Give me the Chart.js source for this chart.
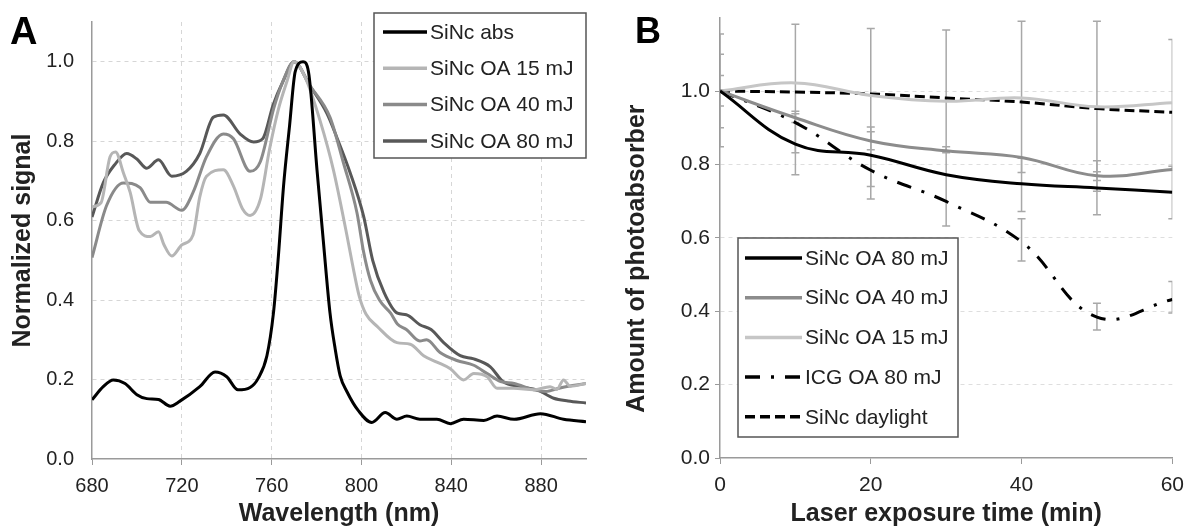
<!DOCTYPE html>
<html>
<head>
<meta charset="utf-8">
<script src="https://cdn.jsdelivr.net/npm/chart.js@4.4.0/dist/chart.umd.min.js"></script>
<style>
  body { margin: 0; background: #fff; }
  #wrap { position: relative; width: 1193px; height: 529px; }
  canvas { position: absolute; top: 0; }
</style>
</head>
<body>
<div id="wrap">
  <canvas id="chartA" width="600" height="529" style="left:0"></canvas>
  <canvas id="chartB" width="593" height="529" style="left:600px"></canvas>
</div>
<script>
// ---- panel A: spectra (wavelength in nm, normalized signal)
var absNm = [680,685,689.5,694.7,700,704.4,709.6,714.8,719,728,734.8,740,745,750.4,754,757.9,760.8,763,765.3,768,770.5,774,776.4,780.2,783,786,788.3,790.5,793.5,798.7,804.6,810.6,815.8,820.2,826,833.6,839.6,845.5,854.5,860.4,868,879.7,890,900];
var absVal = [0.149,0.182,0.199,0.19,0.162,0.152,0.15,0.133,0.145,0.182,0.219,0.207,0.174,0.18,0.203,0.26,0.367,0.51,0.687,0.84,0.975,1.0,0.975,0.728,0.55,0.367,0.277,0.21,0.17,0.121,0.092,0.117,0.10,0.108,0.10,0.10,0.089,0.10,0.097,0.108,0.10,0.114,0.10,0.094];

var oa15Nm = [680,684,688,690.5,694,697,701,706,709.6,712,715.5,720,725,728,731,738.5,743,747,750.4,755,759,763,766.8,770,775,781.6,787.5,793.5,796,799,802,807,815.8,821.7,827.7,833.6,839.6,845.5,850,856,860.4,867.8,876.7,884,887,890,893,900];
var oa15Val = [0.635,0.645,0.76,0.773,0.72,0.671,0.575,0.56,0.572,0.54,0.511,0.539,0.564,0.66,0.712,0.728,0.687,0.63,0.613,0.654,0.778,0.88,0.95,1.0,0.96,0.851,0.728,0.564,0.49,0.41,0.365,0.334,0.293,0.289,0.26,0.244,0.227,0.199,0.215,0.207,0.178,0.178,0.174,0.182,0.175,0.199,0.183,0.19];

var oa40Nm = [680,686.5,694,701.4,706,713,720,725,731,738.5,743,750.4,755,761,765,770,777,786,792,798,801,804,808,813,816,820,826,829,835,842.5,850,856,862,868,876.7,882,888,894,900];
var oa40Val = [0.507,0.638,0.695,0.683,0.646,0.646,0.626,0.671,0.761,0.818,0.806,0.724,0.749,0.884,0.95,1.0,0.94,0.86,0.745,0.62,0.52,0.45,0.40,0.367,0.34,0.326,0.297,0.30,0.268,0.248,0.236,0.215,0.195,0.19,0.174,0.17,0.178,0.185,0.19];

var oa80Nm = [680,685,690,695.5,700,704.4,709.6,715.5,722,728,734,738.5,746,752,756,760.7,765,770,777,784.6,789,795,801,805,810,816,820,826,831,836.6,844,850,857.4,863,870.8,878.2,885.6,892,900];
var oa80Val = [0.609,0.695,0.74,0.769,0.755,0.732,0.753,0.712,0.724,0.769,0.86,0.866,0.818,0.798,0.806,0.892,0.95,1.0,0.94,0.87,0.81,0.72,0.61,0.50,0.42,0.367,0.363,0.338,0.326,0.293,0.26,0.252,0.232,0.195,0.182,0.174,0.153,0.146,0.141];

// ---- panel B: photobleaching over time (min)
var times = [0,10,20,30,40,50,60];
var sinc80 = [1.0,0.855,0.825,0.772,0.747,0.736,0.724];
var sinc40 = [1.0,0.927,0.864,0.837,0.819,0.769,0.786];
var sinc15 = [1.0,1.022,0.988,0.972,0.981,0.957,0.968];
var icg80 = [1.0,0.914,0.784,0.699,0.589,0.384,0.432];
var daylight = [1.0,0.997,0.992,0.981,0.97,0.952,0.942];

// error bars (time, low, high)
var errTime = [0,0,0,10,10,10,20,20,20,30,30,40,40,40,50,50,50,50,60,60,60];
var errLow = [0.848,0.90,0.959,0.772,0.914,0.832,0.706,0.84,0.74,0.632,0.832,0.672,0.537,0.778,0.663,0.727,0.756,0.349,0.652,0.784,0.395];
var errHigh = [1.155,1.10,1.042,1.182,0.945,0.938,1.17,0.902,0.889,1.166,0.848,1.19,0.652,0.817,1.19,0.81,0.78,0.422,1.14,0.795,0.481];

Chart.defaults.font.family = "'Liberation Sans', Arial, sans-serif";
Chart.defaults.color = '#222';

toPoints = function (xs, ys) {
    var pts = [];
    for (var i = 0; i < xs.length; i++) {
        pts.push({x: xs[i], y: ys[i]});
    }
    return pts;
}

// legend drawn as a framed box inside the plot
var boxLegend = {
    id: 'boxLegend',
    afterDraw: function (chart, args, o) {
        var ctx = chart.ctx;
        ctx.save();
        ctx.fillStyle = '#fff';
        ctx.fillRect(o.left, o.top, o.width, o.height);
        ctx.strokeStyle = '#555';
        ctx.lineWidth = 1.5;
        ctx.strokeRect(o.left, o.top, o.width, o.height);
        ctx.font = o.fontSize + "px 'Liberation Sans', Arial, sans-serif";
        ctx.textBaseline = 'middle';
        chart.data.datasets.forEach(function (ds, i) {
            var y = o.firstY + i * o.step;
            ctx.beginPath();
            ctx.setLineDash(ds.borderDash || []);
            ctx.strokeStyle = ds.borderColor;
            ctx.lineWidth = ds.borderWidth + 0.5;
            ctx.moveTo(o.lineX, y);
            ctx.lineTo(o.lineX + o.lineLen, y);
            ctx.stroke();
            ctx.setLineDash([]);
            ctx.fillStyle = '#222';
            ctx.fillText(ds.label, o.lineX + o.lineLen + 3, y + 1);
        });
        ctx.restore();
    }
};

var panelLabel = {
    id: 'panelLabel',
    afterDraw: function (chart, args, o) {
        var ctx = chart.ctx;
        ctx.save();
        ctx.fillStyle = '#000';
        ctx.font = "bold " + o.size + "px 'Liberation Sans', Arial, sans-serif";
        ctx.textBaseline = 'alphabetic';
        ctx.fillText(o.text, o.x, o.y);
        ctx.restore();
    }
};

var errorBars = {
    id: 'errorBars',
    beforeDatasetsDraw: function (chart) {
        var ctx = chart.ctx;
        var area = chart.chartArea;
        var xs = chart.scales.x, ys = chart.scales.y;
        ctx.save();
        ctx.beginPath();
        ctx.rect(area.left, area.top, area.right - area.left, area.bottom - area.top);
        ctx.clip();
        ctx.strokeStyle = '#a8a8a8';
        ctx.lineWidth = 1.5;
        for (var i = 0; i < errTime.length; i++) {
            var px = xs.getPixelForValue(errTime[i]);
            var lo = ys.getPixelForValue(errLow[i]);
            var hi = ys.getPixelForValue(errHigh[i]);
            ctx.beginPath();
            ctx.moveTo(px, lo); ctx.lineTo(px, hi);
            ctx.moveTo(px - 4, lo); ctx.lineTo(px + 4, lo);
            ctx.moveTo(px - 4, hi); ctx.lineTo(px + 4, hi);
            ctx.stroke();
        }
        ctx.restore();
    }
};

lineSet = function (label, pts, color, dash, extra) {
    var ds = {
        label: label,
        data: pts,
        borderColor: color,
        borderWidth: 3,
        borderDash: dash,
        pointRadius: 0,
        fill: false
    };
    for (var k in extra) ds[k] = extra[k];
    return ds;
}

var gridGray = '#d6d6d6';
var axisGray = '#9a9a9a';

var chartA = new Chart(document.getElementById('chartA'), {
    type: 'line',
    data: {
        datasets: [
            lineSet('SiNc abs', toPoints(absNm, absVal), '#000', [], {cubicInterpolationMode: 'monotone'}),
            lineSet('SiNc OA 15 mJ', toPoints(oa15Nm, oa15Val), '#b5b5b5', [], {cubicInterpolationMode: 'monotone'}),
            lineSet('SiNc OA 40 mJ', toPoints(oa40Nm, oa40Val), '#8a8a8a', [], {cubicInterpolationMode: 'monotone'}),
            lineSet('SiNc OA 80 mJ', toPoints(oa80Nm, oa80Val), '#585858', [], {cubicInterpolationMode: 'monotone'})
        ]
    },
    options: {
        responsive: false,
        animation: false,
        devicePixelRatio: 1,
        layout: {padding: {left: 0, right: 14, top: 12, bottom: 0}},
        plugins: {
            legend: {display: false},
            tooltip: {enabled: false},
            boxLegend: {left: 374, top: 13, width: 212, height: 145, lineX: 383, lineLen: 44, firstY: 32, step: 36.3, fontSize: 21},
            panelLabel: {text: 'A', x: 10, y: 44, size: 38}
        },
        scales: {
            x: {
                type: 'linear', min: 680, max: 900,
                ticks: {stepSize: 40, includeBounds: false, font: {size: 20}, padding: 9, color: '#222'},
                grid: {
                    color: function (c) { return c.tick && c.tick.value === 680 ? 'transparent' : gridGray; },
                    tickLength: 6, tickColor: axisGray, tickBorderDash: []
                },
                border: {color: axisGray, width: 1.5, dash: [4, 4]},
                title: {display: true, text: 'Wavelength (nm)', font: {size: 25, weight: 'bold'}, color: '#222', padding: {top: 0, bottom: 0}},
                afterFit: function (s) { s.height = 70; }
            },
            y: {
                min: 0, max: 1.1,
                ticks: {stepSize: 0.2, includeBounds: false, font: {size: 20}, padding: 10, color: '#222',
                    callback: function (v) { return v.toFixed(1); }},
                grid: {
                    color: function (c) { return c.tick && c.tick.value === 0 ? 'transparent' : gridGray; },
                    tickLength: 8, tickColor: 'transparent'
                },
                border: {color: axisGray, width: 1.5, dash: [4, 4]},
                title: {display: true, text: 'Normalized signal', font: {size: 25, weight: 'bold'}, color: '#222', padding: {top: 8, bottom: 0}},
                afterFit: function (s) { s.width = 92; }
            }
        }
    },
    plugins: [boxLegend, panelLabel]
});

var chartB = new Chart(document.getElementById('chartB'), {
    type: 'line',
    data: {
        datasets: [
            lineSet('SiNc OA 80 mJ', toPoints(times, sinc80), '#000', [], {tension: 0.4}),
            lineSet('SiNc OA 40 mJ', toPoints(times, sinc40), '#8c8c8c', [], {tension: 0.4}),
            lineSet('SiNc OA 15 mJ', toPoints(times, sinc15), '#c6c6c6', [], {tension: 0.4}),
            lineSet('ICG OA 80 mJ', toPoints(times, icg80), '#000', [15, 11, 3, 11], {tension: 0.4}),
            lineSet('SiNc daylight', toPoints(times, daylight), '#000', [10, 5], {tension: 0.4})
        ]
    },
    options: {
        responsive: false,
        animation: false,
        devicePixelRatio: 1,
        layout: {padding: {left: 0, right: 16, top: 14, bottom: 0}},
        plugins: {
            legend: {display: false},
            tooltip: {enabled: false},
            boxLegend: {left: 138, top: 238, width: 220, height: 199, lineX: 145, lineLen: 57, firstY: 258, step: 39.7, fontSize: 21},
            panelLabel: {text: 'B', x: 35, y: 43, size: 36}
        },
        scales: {
            x: {
                type: 'linear', min: 0, max: 60,
                ticks: {stepSize: 20, font: {size: 21}, padding: 9, color: '#222'},
                grid: {drawOnChartArea: false, tickLength: 6, tickColor: axisGray, tickBorderDash: []},
                border: {color: axisGray, width: 1.5},
                title: {display: true, text: 'Laser exposure time (min)', font: {size: 25, weight: 'bold'}, color: '#222', padding: {top: 0, bottom: 0}},
                afterFit: function (s) { s.height = 71; }
            },
            y: {
                min: 0, max: 1.2,
                ticks: {stepSize: 0.2, includeBounds: false, font: {size: 21}, padding: 5, color: '#222',
                    callback: function (v) { return v > 1.05 ? '' : v.toFixed(1); }},
                grid: {
                    color: function (c) { return c.tick && (c.tick.value === 0 || c.tick.value > 1.05) ? 'transparent' : '#dedede'; },
                    tickColor: function (c) { return c.tick && c.tick.value > 1.05 ? 'transparent' : axisGray; },
                    tickLength: 5, tickBorderDash: []
                },
                border: {color: axisGray, width: 1.5, dash: [4, 4]},
                title: {display: true, text: 'Amount of photoabsorber      ', font: {size: 25, weight: 'bold'}, color: '#222', padding: {top: 22, bottom: 0}},
                afterFit: function (s) { s.width = 120; }
            }
        }
    },
    plugins: [errorBars, boxLegend, panelLabel]
});
</script>
</body>
</html>
